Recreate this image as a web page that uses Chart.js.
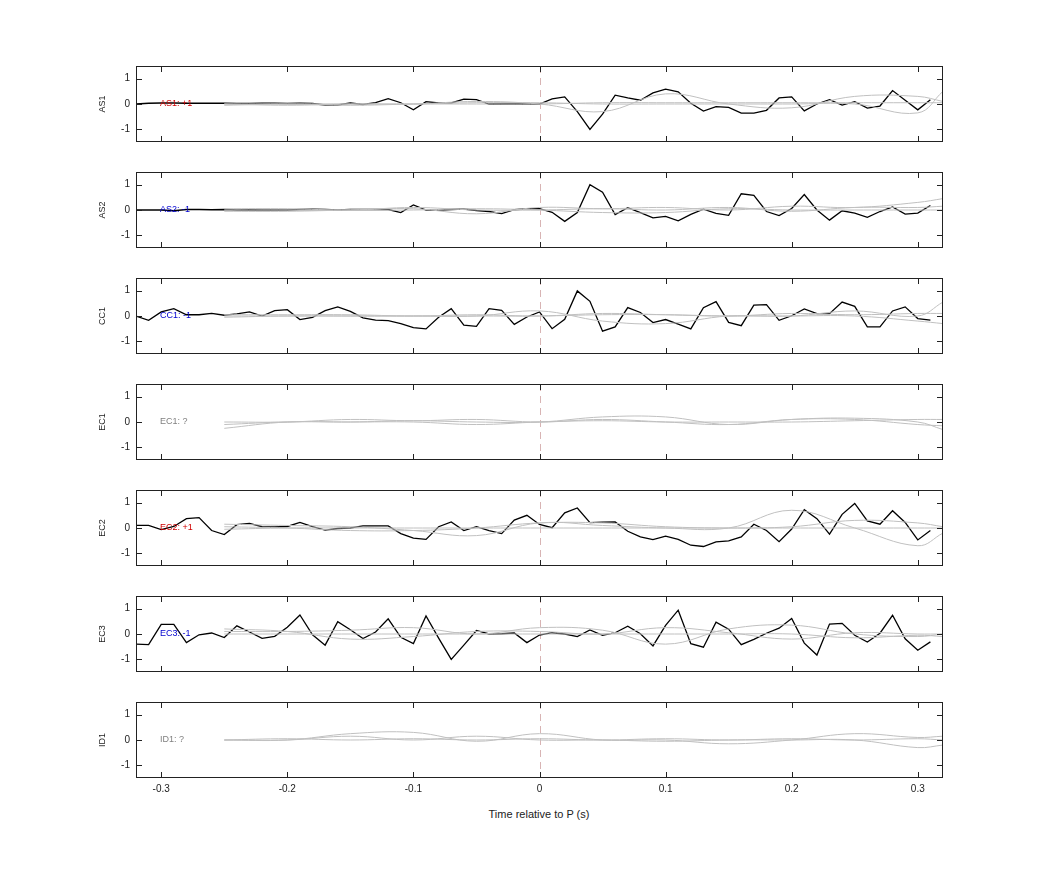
<!DOCTYPE html>
<html><head><meta charset="utf-8">
<script src="https://cdn.jsdelivr.net/npm/chart.js@4"></script>
<style>body{margin:0;background:#fff;width:1042px;height:875px;position:relative;overflow:hidden}canvas{position:absolute;left:0}
#xt{position:absolute;top:808px;left:0;width:1078px;text-align:center;font:11px "Liberation Sans",Arial;color:#222}</style>
</head><body>
<div id="xt">Time relative to P (s)</div>
<script>
const panelNames = ["AS1","AS2","CC1","EC1","EC2","EC3","ID1"];
const panelTags = ["AS1: +1","AS2: -1","CC1: -1","EC1: ?","EC2: +1","EC3: -1","ID1: ?"];
const tagColors = ["#d00000","#0000d0","#0000d0","#808080","#d00000","#0000d0","#808080"];
const xTicks = [-0.3,-0.2,-0.1,0,0.1,0.2,0.3];
const xTickLabels = ["-0.3","-0.2","-0.1","0","0.1","0.2","0.3"];
const yTicks = [-1,0,1];
const yTickLabels = ["-1","0","1"];
const tBlack = [-0.32,-0.31,-0.30,-0.29,-0.28,-0.27,-0.26,-0.25,-0.24,-0.23,-0.22,-0.21,-0.20,-0.19,-0.18,-0.17,-0.16,-0.15,-0.14,-0.13,-0.12,-0.11,-0.10,-0.09,-0.08,-0.07,-0.06,-0.05,-0.04,-0.03,-0.02,-0.01,0,0.01,0.02,0.03,0.04,0.05,0.06,0.07,0.08,0.09,0.10,0.11,0.12,0.13,0.14,0.15,0.16,0.17,0.18,0.19,0.20,0.21,0.22,0.23,0.24,0.25,0.26,0.27,0.28,0.29,0.30,0.31];
const tGrey = [-0.25,-0.2,-0.15,-0.1,-0.05,0,0.05,0.1,0.15,0.2,0.25,0.3,0.32];
const blackAS1 = [0,0.03,0.04,0.04,0.03,0.03,0.03,0.03,0.02,0.02,0.03,0.03,0.02,0.03,0.02,-0.04,-0.04,0.04,-0.02,0.05,0.21,0.05,-0.23,0.09,0.04,0.04,0.19,0.17,0,0,0,0,0,0.2,0.28,-0.3,-1.0,-0.4,0.35,0.24,0.15,0.44,0.59,0.48,0.03,-0.28,-0.1,-0.13,-0.36,-0.36,-0.25,0.24,0.28,-0.27,0,0.17,-0.04,0.09,-0.16,-0.08,0.53,0.15,-0.23,0.17];
const blackAS2 = [0,0,0,-0.03,0.02,0.02,0.01,0.02,0,0.01,0,0,0,0.02,0.03,0.02,0,0.02,0.02,0.02,0.02,-0.1,0.2,0,0,0.02,0.04,-0.02,-0.06,-0.14,0.01,0.05,0.05,-0.09,-0.45,-0.1,1.0,0.7,-0.18,0.09,-0.1,-0.31,-0.25,-0.43,-0.17,0.03,-0.13,-0.21,0.64,0.58,-0.06,-0.22,0.06,0.61,0,-0.4,-0.03,-0.12,-0.29,-0.06,0.12,-0.16,-0.12,0.18];
const blackCC1 = [0,-0.17,0.16,0.29,0.05,0.05,0.1,0.03,0.08,0.16,0,0.21,0.25,-0.14,-0.05,0.21,0.36,0.18,-0.07,-0.16,-0.18,-0.3,-0.46,-0.51,-0.05,0.29,-0.36,-0.41,0.29,0.22,-0.33,-0.04,0.16,-0.5,-0.13,0.99,0.58,-0.6,-0.43,0.33,0.14,-0.26,-0.14,-0.32,-0.51,0.33,0.57,-0.25,-0.38,0.43,0.45,-0.17,0.01,0.28,0.09,0.09,0.55,0.38,-0.43,-0.43,0.2,0.36,-0.1,-0.16];
const blackEC2 = [0.1,0.1,-0.06,0.06,0.37,0.41,-0.1,-0.26,0.13,0.18,0.05,0.04,0.06,0.22,0.05,-0.08,-0.02,0,0.08,0.08,0.08,-0.22,-0.4,-0.45,0.05,0.24,-0.1,0.05,-0.1,-0.22,0.31,0.5,0.14,0.01,0.6,0.79,0.21,0.23,0.24,-0.13,-0.35,-0.46,-0.32,-0.45,-0.68,-0.73,-0.55,-0.51,-0.35,0.15,-0.1,-0.54,-0.04,0.72,0.37,-0.24,0.54,0.97,0.28,0.15,0.68,0.22,-0.47,-0.1];
const blackEC3 = [-0.4,-0.42,0.38,0.38,-0.34,-0.03,0.04,-0.14,0.32,0.08,-0.17,-0.09,0.27,0.75,-0.03,-0.44,0.49,0.17,-0.18,0.08,0.6,-0.13,-0.38,0.71,-0.16,-1.0,-0.44,0.14,0,0.01,0.04,-0.34,-0.04,0.05,0,-0.1,0.16,-0.05,0.05,0.31,0.01,-0.47,0.34,0.94,-0.38,-0.52,0.47,0.19,-0.42,-0.21,0.03,0.23,0.61,-0.36,-0.83,0.39,0.42,-0.05,-0.32,0.03,0.74,-0.19,-0.64,-0.31];
const greyAS1 = [[-0.05,0,0,0,0.1,0,-0.3,0.4,0,-0.15,0.3,0.3,0.1],[0,0,-0.05,0,0.05,0.05,0,0,0,0,0,-0.35,0.5],[0,-0.05,0,0,0,0,0.05,0.05,0.05,0.05,0.05,0.05,0.05]];
const greyAS2 = [[-0.05,-0.05,0,0.05,-0.15,0.1,0.05,0.1,0,0.15,0.1,0.3,0.45],[0,0,0,0,0.05,0,-0.1,-0.1,0.05,0,0,0,0],[0.05,0.05,0,0.1,0,0,0.05,0,0.1,-0.05,0.1,0.1,0.15]];
const greyCC1 = [[-0.05,0,0,0,0,0.2,-0.2,-0.3,0,0,0.2,0,0.55],[0,0,0,0,0,0,0.05,0.05,0,0,0,-0.2,-0.3],[0.05,0.05,0.05,0,0.05,0,0.1,0.05,0,0.1,0.05,0.1,0.1]];
const greyEC1 = [[-0.25,0,0,0.05,0,0,0.2,0.2,-0.1,0.1,0.15,0,-0.3],[0,0,0.1,0.05,0.1,0,0.1,0,-0.1,0.1,0.1,-0.1,-0.15],[-0.1,0,0,0,-0.1,0,0.05,0,0,0,0.05,0.1,0.1]];
const greyEC2 = [[0.15,0.1,0.05,-0.1,-0.3,0.2,0.1,0,0,0.7,0,-0.7,-0.2],[0.05,0,-0.1,-0.1,0,0.2,0.2,0.05,0,0.05,0.3,0.2,0.05],[-0.05,0,0,0,0,0,0,0,0,0,0,0,0]];
const greyEC3 = [[0.1,0.1,0.15,0.25,0,0.25,0.15,-0.4,0.2,0.35,0,-0.1,0],[0.2,0.1,-0.2,-0.1,0.1,0.1,0,0.25,0.05,-0.2,0.05,0,0],[0,0,0,0,0,0,0,0,0,0,-0.15,-0.05,-0.1]];
const greyID1 = [[0,0,0.25,0.3,-0.05,0.25,0,0,-0.15,0,0.25,0.1,0.15],[0,0,0.15,0,0.15,0,0,-0.05,0,0,0,-0.3,-0.2],[0,0.05,0,0.05,0,0.05,0,0.05,0,0.05,0,0.05,0]];

const blacks = [blackAS1,blackAS2,blackCC1,null,blackEC2,blackEC3,null];
const greys = [greyAS1,greyAS2,greyCC1,greyEC1,greyEC2,greyEC3,greyID1];
const FONT = '"Liberation Sans", Arial, sans-serif';

panelNames.forEach((name,i)=>{
  const top = 66 + i*106;
  const last = i===6;
  const h = 86 + (last?20:0);
  const cv = document.createElement('canvas');
  cv.width=960; cv.height=h;
  cv.style.top = (top-5)+'px';
  cv.style.width='960px';
  cv.style.height=h+'px';
  document.body.appendChild(cv);
  const ds = greys[i].map(g=>({data:g.map((v,j)=>({x:tGrey[j],y:v})),borderColor:'#c0c0c0',borderWidth:1,pointRadius:0,tension:0.4}));
  if(blacks[i]) ds.push({data:blacks[i].map((v,j)=>({x:tBlack[j],y:v})),borderColor:'#000',borderWidth:1.3,pointRadius:0,tension:0});
  const deco = {id:'deco',
    beforeDatasetsDraw(c){
      const {ctx,chartArea:a,scales:{x}}=c;
      const x0=Math.round(x.getPixelForValue(0))+0.5;
      ctx.save();ctx.strokeStyle='rgba(190,130,130,0.75)';ctx.lineWidth=0.8;ctx.setLineDash([7,5]);
      ctx.beginPath();ctx.moveTo(x0,a.top);ctx.lineTo(x0,a.bottom);ctx.stroke();ctx.restore();
    },
    afterDraw(c){
      const {ctx,chartArea:a,scales:{x,y}}=c;
      ctx.save();
      ctx.strokeStyle='#222';ctx.lineWidth=1;
      ctx.strokeRect(a.left+0.5,a.top+0.5,a.right-a.left-1,a.bottom-a.top-1);
      ctx.beginPath();
      xTicks.forEach(t=>{const px=Math.round(x.getPixelForValue(t))+0.5;ctx.moveTo(px,a.top);ctx.lineTo(px,a.top+6);ctx.moveTo(px,a.bottom);ctx.lineTo(px,a.bottom-6);});
      yTicks.forEach(t=>{const py=Math.round(y.getPixelForValue(t))+0.5;ctx.moveTo(a.left,py);ctx.lineTo(a.left+6,py);ctx.moveTo(a.right,py);ctx.lineTo(a.right-6,py);});
      ctx.stroke();
      ctx.fillStyle='#222';ctx.font='10px '+FONT;ctx.textAlign='right';ctx.textBaseline='middle';
      yTicks.forEach((t,j)=>ctx.fillText(yTickLabels[j],a.left-6,y.getPixelForValue(t)));
      if(last){ctx.textAlign='center';ctx.textBaseline='top';
        xTicks.forEach((t,j)=>ctx.fillText(xTickLabels[j],x.getPixelForValue(t),a.bottom+6));}
      ctx.save();ctx.translate(103,(a.top+a.bottom)/2);ctx.rotate(-Math.PI/2);ctx.textAlign='center';ctx.textBaseline='middle';ctx.font='9px '+FONT;ctx.fillText(name,0,0);ctx.restore();
      ctx.fillStyle=tagColors[i];ctx.font='9px '+FONT;ctx.textAlign='left';ctx.textBaseline='middle';
      ctx.fillText(panelTags[i],160,y.getPixelForValue(0));
      ctx.restore();
    }};
  new Chart(cv,{type:'line',data:{datasets:ds},
    options:{responsive:false,animation:false,devicePixelRatio:1,
      layout:{padding:{left:136,right:17,top:5,bottom:5+(last?20:0)}},
      plugins:{legend:{display:false},tooltip:{enabled:false}},
      scales:{x:{type:'linear',min:-0.32,max:0.32,display:false},y:{min:-1.5,max:1.5,display:false}}},
    plugins:[deco]});
});
</script></body></html>
